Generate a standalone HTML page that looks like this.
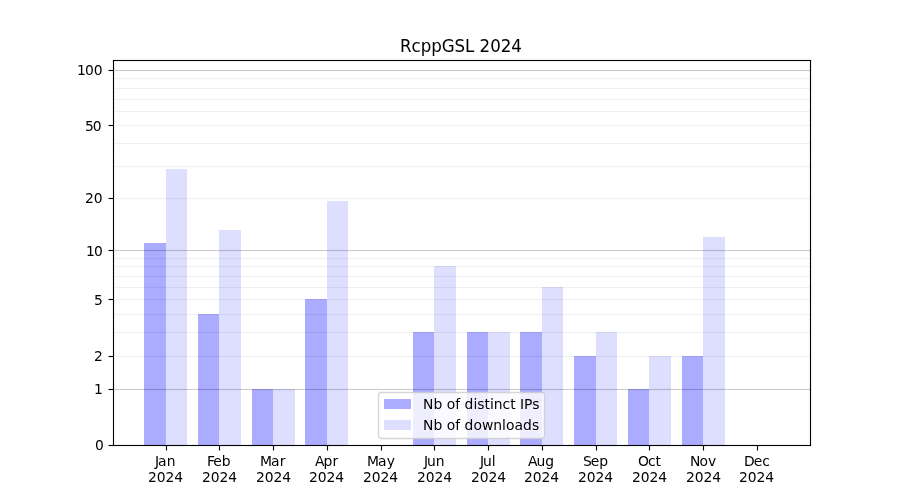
<!DOCTYPE html>
<html lang="en">
<head>
<meta charset="utf-8">
<title>RcppGSL 2024</title>
<style>
html,body{margin:0;padding:0;background:#fff;width:900px;height:500px;overflow:hidden}
svg{display:block}
text{font-family:"DejaVu Sans","Liberation Sans",sans-serif;font-size:13.889px;fill:#000;}
.t{font-size:16.667px}
.b1{fill:#00f;fill-opacity:.33}.b2{fill:#00f;fill-opacity:.13}
.gM{fill:#000;fill-opacity:.2}.gMa{fill:#000;fill-opacity:.011}
.gm{fill:#000;fill-opacity:.06}.gma{fill:#000;fill-opacity:.004}
.k{fill:#000}.ka{fill:#000;fill-opacity:.055}.kh{fill:#000;fill-opacity:.5}.kq{fill:#000;fill-opacity:.0275}
</style>
</head>
<body>
<svg width="900" height="500" viewBox="0 0 900 500" shape-rendering="crispEdges">
<rect x="0" y="0" width="900" height="500" fill="#fff"/>
<!-- bars -->
<g>
<rect class="b1" x="144" y="243" width="22" height="202"/>
<rect class="b2" x="166" y="169" width="21" height="276"/>
<rect class="b1" x="198" y="314" width="21" height="131"/>
<rect class="b2" x="219" y="230" width="22" height="215"/>
<rect class="b1" x="252" y="389" width="21" height="56"/>
<rect class="b2" x="273" y="389" width="22" height="56"/>
<rect class="b1" x="305" y="299" width="22" height="146"/>
<rect class="b2" x="327" y="201" width="21" height="244"/>
<rect class="b1" x="413" y="332" width="21" height="113"/>
<rect class="b2" x="434" y="266" width="22" height="179"/>
<rect class="b1" x="467" y="332" width="21" height="113"/>
<rect class="b2" x="488" y="332" width="22" height="113"/>
<rect class="b1" x="520" y="332" width="22" height="113"/>
<rect class="b2" x="542" y="287" width="21" height="158"/>
<rect class="b1" x="574" y="356" width="22" height="89"/>
<rect class="b2" x="596" y="332" width="21" height="113"/>
<rect class="b1" x="628" y="389" width="21" height="56"/>
<rect class="b2" x="649" y="356" width="22" height="89"/>
<rect class="b1" x="682" y="356" width="21" height="89"/>
<rect class="b2" x="703" y="237" width="22" height="208"/>
</g>
<!-- horizontal guide lines -->
<g>
<rect class="gMa" x="113" y="388" width="697" height="1"/>
<rect class="gM" x="113" y="389" width="697" height="1"/>
<rect class="gMa" x="113" y="390" width="697" height="1"/>
<rect class="gMa" x="113" y="249" width="697" height="1"/>
<rect class="gM" x="113" y="250" width="697" height="1"/>
<rect class="gMa" x="113" y="251" width="697" height="1"/>
<rect class="gMa" x="113" y="69" width="697" height="1"/>
<rect class="gM" x="113" y="70" width="697" height="1"/>
<rect class="gMa" x="113" y="71" width="697" height="1"/>
<rect class="gma" x="113" y="355" width="697" height="1"/>
<rect class="gm" x="113" y="356" width="697" height="1"/>
<rect class="gma" x="113" y="357" width="697" height="1"/>
<rect class="gma" x="113" y="331" width="697" height="1"/>
<rect class="gm" x="113" y="332" width="697" height="1"/>
<rect class="gma" x="113" y="333" width="697" height="1"/>
<rect class="gma" x="113" y="313" width="697" height="1"/>
<rect class="gm" x="113" y="314" width="697" height="1"/>
<rect class="gma" x="113" y="315" width="697" height="1"/>
<rect class="gma" x="113" y="298" width="697" height="1"/>
<rect class="gm" x="113" y="299" width="697" height="1"/>
<rect class="gma" x="113" y="300" width="697" height="1"/>
<rect class="gma" x="113" y="286" width="697" height="1"/>
<rect class="gm" x="113" y="287" width="697" height="1"/>
<rect class="gma" x="113" y="288" width="697" height="1"/>
<rect class="gma" x="113" y="275" width="697" height="1"/>
<rect class="gm" x="113" y="276" width="697" height="1"/>
<rect class="gma" x="113" y="277" width="697" height="1"/>
<rect class="gma" x="113" y="265" width="697" height="1"/>
<rect class="gm" x="113" y="266" width="697" height="1"/>
<rect class="gma" x="113" y="267" width="697" height="1"/>
<rect class="gma" x="113" y="257" width="697" height="1"/>
<rect class="gm" x="113" y="258" width="697" height="1"/>
<rect class="gma" x="113" y="259" width="697" height="1"/>
<rect class="gma" x="113" y="197" width="697" height="1"/>
<rect class="gm" x="113" y="198" width="697" height="1"/>
<rect class="gma" x="113" y="199" width="697" height="1"/>
<rect class="gma" x="113" y="165" width="697" height="1"/>
<rect class="gm" x="113" y="166" width="697" height="1"/>
<rect class="gma" x="113" y="167" width="697" height="1"/>
<rect class="gma" x="113" y="142" width="697" height="1"/>
<rect class="gm" x="113" y="143" width="697" height="1"/>
<rect class="gma" x="113" y="144" width="697" height="1"/>
<rect class="gma" x="113" y="124" width="697" height="1"/>
<rect class="gm" x="113" y="125" width="697" height="1"/>
<rect class="gma" x="113" y="126" width="697" height="1"/>
<rect class="gma" x="113" y="110" width="697" height="1"/>
<rect class="gm" x="113" y="111" width="697" height="1"/>
<rect class="gma" x="113" y="112" width="697" height="1"/>
<rect class="gma" x="113" y="98" width="697" height="1"/>
<rect class="gm" x="113" y="99" width="697" height="1"/>
<rect class="gma" x="113" y="100" width="697" height="1"/>
<rect class="gma" x="113" y="87" width="697" height="1"/>
<rect class="gm" x="113" y="88" width="697" height="1"/>
<rect class="gma" x="113" y="89" width="697" height="1"/>
<rect class="gma" x="113" y="77" width="697" height="1"/>
<rect class="gm" x="113" y="78" width="697" height="1"/>
<rect class="gma" x="113" y="79" width="697" height="1"/>
</g>
<!-- frame -->
<g>
<rect class="ka" x="112" y="59" width="700" height="3"/>
<rect class="ka" x="112" y="444" width="700" height="3"/>
<rect class="ka" x="112" y="60" width="3" height="386"/>
<rect class="ka" x="809" y="60" width="3" height="386"/>
<rect class="k" x="113" y="60" width="698" height="1"/>
<rect class="k" x="113" y="445" width="698" height="1"/>
<rect class="k" x="113" y="60" width="1" height="386"/>
<rect class="k" x="810" y="60" width="1" height="386"/>
</g>
<!-- tick marks -->
<g>
<rect class="ka" x="165" y="446" width="3" height="4"/>
<rect class="k" x="166" y="446" width="1" height="4"/>
<rect class="kh" x="166" y="450" width="1" height="1"/>
<rect class="kq" x="165" y="450" width="1" height="1"/>
<rect class="kq" x="167" y="450" width="1" height="1"/>
<rect class="ka" x="218" y="446" width="3" height="4"/>
<rect class="k" x="219" y="446" width="1" height="4"/>
<rect class="kh" x="219" y="450" width="1" height="1"/>
<rect class="kq" x="218" y="450" width="1" height="1"/>
<rect class="kq" x="220" y="450" width="1" height="1"/>
<rect class="ka" x="272" y="446" width="3" height="4"/>
<rect class="k" x="273" y="446" width="1" height="4"/>
<rect class="kh" x="273" y="450" width="1" height="1"/>
<rect class="kq" x="272" y="450" width="1" height="1"/>
<rect class="kq" x="274" y="450" width="1" height="1"/>
<rect class="ka" x="326" y="446" width="3" height="4"/>
<rect class="k" x="327" y="446" width="1" height="4"/>
<rect class="kh" x="327" y="450" width="1" height="1"/>
<rect class="kq" x="326" y="450" width="1" height="1"/>
<rect class="kq" x="328" y="450" width="1" height="1"/>
<rect class="ka" x="380" y="446" width="3" height="4"/>
<rect class="k" x="381" y="446" width="1" height="4"/>
<rect class="kh" x="381" y="450" width="1" height="1"/>
<rect class="kq" x="380" y="450" width="1" height="1"/>
<rect class="kq" x="382" y="450" width="1" height="1"/>
<rect class="ka" x="433" y="446" width="3" height="4"/>
<rect class="k" x="434" y="446" width="1" height="4"/>
<rect class="kh" x="434" y="450" width="1" height="1"/>
<rect class="kq" x="433" y="450" width="1" height="1"/>
<rect class="kq" x="435" y="450" width="1" height="1"/>
<rect class="ka" x="487" y="446" width="3" height="4"/>
<rect class="k" x="488" y="446" width="1" height="4"/>
<rect class="kh" x="488" y="450" width="1" height="1"/>
<rect class="kq" x="487" y="450" width="1" height="1"/>
<rect class="kq" x="489" y="450" width="1" height="1"/>
<rect class="ka" x="541" y="446" width="3" height="4"/>
<rect class="k" x="542" y="446" width="1" height="4"/>
<rect class="kh" x="542" y="450" width="1" height="1"/>
<rect class="kq" x="541" y="450" width="1" height="1"/>
<rect class="kq" x="543" y="450" width="1" height="1"/>
<rect class="ka" x="595" y="446" width="3" height="4"/>
<rect class="k" x="596" y="446" width="1" height="4"/>
<rect class="kh" x="596" y="450" width="1" height="1"/>
<rect class="kq" x="595" y="450" width="1" height="1"/>
<rect class="kq" x="597" y="450" width="1" height="1"/>
<rect class="ka" x="648" y="446" width="3" height="4"/>
<rect class="k" x="649" y="446" width="1" height="4"/>
<rect class="kh" x="649" y="450" width="1" height="1"/>
<rect class="kq" x="648" y="450" width="1" height="1"/>
<rect class="kq" x="650" y="450" width="1" height="1"/>
<rect class="ka" x="702" y="446" width="3" height="4"/>
<rect class="k" x="703" y="446" width="1" height="4"/>
<rect class="kh" x="703" y="450" width="1" height="1"/>
<rect class="kq" x="702" y="450" width="1" height="1"/>
<rect class="kq" x="704" y="450" width="1" height="1"/>
<rect class="ka" x="756" y="446" width="3" height="4"/>
<rect class="k" x="757" y="446" width="1" height="4"/>
<rect class="kh" x="757" y="450" width="1" height="1"/>
<rect class="kq" x="756" y="450" width="1" height="1"/>
<rect class="kq" x="758" y="450" width="1" height="1"/>
<rect class="ka" x="109" y="444" width="4" height="3"/>
<rect class="k" x="109" y="445" width="4" height="1"/>
<rect class="kh" x="108" y="445" width="1" height="1"/>
<rect class="kq" x="108" y="444" width="1" height="1"/>
<rect class="kq" x="108" y="446" width="1" height="1"/>
<rect class="ka" x="109" y="388" width="4" height="3"/>
<rect class="k" x="109" y="389" width="4" height="1"/>
<rect class="kh" x="108" y="389" width="1" height="1"/>
<rect class="kq" x="108" y="388" width="1" height="1"/>
<rect class="kq" x="108" y="390" width="1" height="1"/>
<rect class="ka" x="109" y="355" width="4" height="3"/>
<rect class="k" x="109" y="356" width="4" height="1"/>
<rect class="kh" x="108" y="356" width="1" height="1"/>
<rect class="kq" x="108" y="355" width="1" height="1"/>
<rect class="kq" x="108" y="357" width="1" height="1"/>
<rect class="ka" x="109" y="298" width="4" height="3"/>
<rect class="k" x="109" y="299" width="4" height="1"/>
<rect class="kh" x="108" y="299" width="1" height="1"/>
<rect class="kq" x="108" y="298" width="1" height="1"/>
<rect class="kq" x="108" y="300" width="1" height="1"/>
<rect class="ka" x="109" y="249" width="4" height="3"/>
<rect class="k" x="109" y="250" width="4" height="1"/>
<rect class="kh" x="108" y="250" width="1" height="1"/>
<rect class="kq" x="108" y="249" width="1" height="1"/>
<rect class="kq" x="108" y="251" width="1" height="1"/>
<rect class="ka" x="109" y="197" width="4" height="3"/>
<rect class="k" x="109" y="198" width="4" height="1"/>
<rect class="kh" x="108" y="198" width="1" height="1"/>
<rect class="kq" x="108" y="197" width="1" height="1"/>
<rect class="kq" x="108" y="199" width="1" height="1"/>
<rect class="ka" x="109" y="124" width="4" height="3"/>
<rect class="k" x="109" y="125" width="4" height="1"/>
<rect class="kh" x="108" y="125" width="1" height="1"/>
<rect class="kq" x="108" y="124" width="1" height="1"/>
<rect class="kq" x="108" y="126" width="1" height="1"/>
<rect class="ka" x="109" y="69" width="4" height="3"/>
<rect class="k" x="109" y="70" width="4" height="1"/>
<rect class="kh" x="108" y="70" width="1" height="1"/>
<rect class="kq" x="108" y="69" width="1" height="1"/>
<rect class="kq" x="108" y="71" width="1" height="1"/>
</g>
<!-- axis labels and title -->
<g>
<text x="95" y="450">0</text>
<text x="94" y="394">1</text>
<text x="94" y="361">2</text>
<text x="94" y="305">5</text>
<text x="86 93.875" y="256">10</text>
<text x="85 93.75" y="203">20</text>
<text x="85 92.75" y="131">50</text>
<text x="77 84.875 93.625" y="75">100</text>
<text x="155 158 166.625" y="466">Jan</text>
<text x="148 156.75 165.5 174.25" y="482">2024</text>
<text x="207 213.25 221.75" y="466">Feb</text>
<text x="202 210.75 219.5 228.25" y="482">2024</text>
<text x="260 271 279.625" y="466">Mar</text>
<text x="256 264.75 273.5 282.25" y="482">2024</text>
<text x="315 323.5 332.375" y="466">Apr</text>
<text x="309 317.75 326.5 335.25" y="482">2024</text>
<text x="367 378 386.625" y="466">May</text>
<text x="363 371.75 380.5 389.25" y="482">2024</text>
<text x="424 427 435.75" y="466">Jun</text>
<text x="417 425.75 434.5 443.25" y="482">2024</text>
<text x="480 483 491.75" y="466">Jul</text>
<text x="471 479.75 488.5 497.25" y="482">2024</text>
<text x="528 536.5 545.25" y="466">Aug</text>
<text x="524 532.75 541.5 550.25" y="482">2024</text>
<text x="583 590.75 599.25" y="466">Sep</text>
<text x="578 586.75 595.5 604.25" y="482">2024</text>
<text x="638 647.875 655.5" y="466">Oct</text>
<text x="632 640.75 649.5 658.25" y="482">2024</text>
<text x="690 699.375 707.875" y="466">Nov</text>
<text x="686 694.75 703.5 712.25" y="482">2024</text>
<text x="744 753.75 762.25" y="466">Dec</text>
<text x="739 747.75 756.5 765.25" y="482">2024</text>
<text class="t" transform="translate(0 52) scale(1 1.07)" x="400 411.625 420.75 431.25 441.75 454.625 465.125 474.375 479.625 490.25 500.75 511.375" y="0">RcppGSL 2024</text>
</g>
<!-- legend -->
<g>
<rect x="378.5" y="392.5" width="166" height="46" rx="3" ry="3" fill="#fff" fill-opacity=".8" stroke="#ccc" stroke-opacity=".8" stroke-width="1.389" shape-rendering="geometricPrecision"/>
<rect class="b1" x="384" y="399" width="27" height="10"/>
<rect class="b2" x="384" y="420" width="27" height="10"/>
<text x="423 433.375 442.25 446.625 455.125 460.125 464.5 473.375 477.25 484.375 489.875 493.75 502.5 510.125 515.625 520 524 532.125" y="409">Nb of distinct IPs</text>
<text x="423 433.375 442.25 446.625 455.125 460.125 464.5 473.375 481.875 493.25 502 505.875 514.375 523 531.875" y="430">Nb of downloads</text>
</g>
</svg>
</body>
</html>
